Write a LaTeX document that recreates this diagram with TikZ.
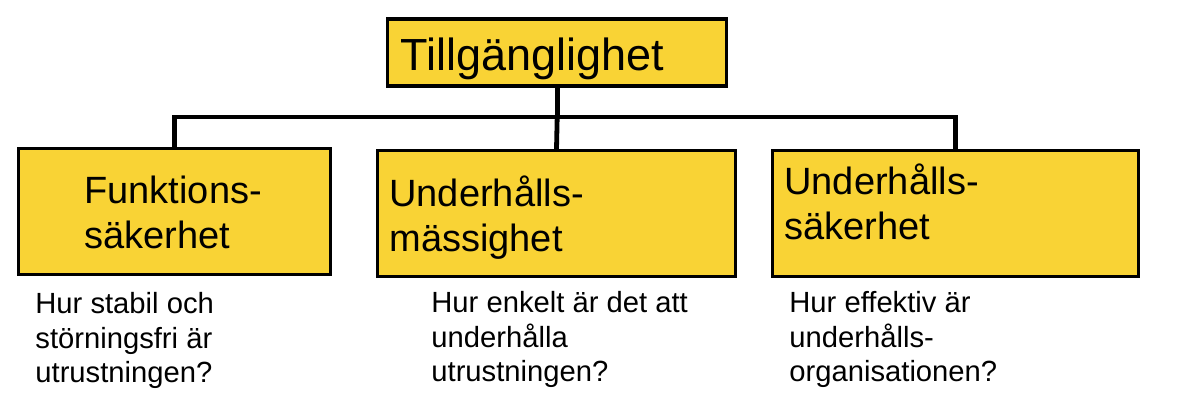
\documentclass[tikz,border=0pt]{standalone}
\usepackage{fontspec}
\setmainfont{Liberation Sans}
\definecolor{tyellow}{HTML}{F9D335}

\begin{document}
\begin{tikzpicture}[x=0.5pt, y=-0.5pt,
  box/.style={rectangle, draw=black, fill=tyellow, line width=1.75pt, inner sep=0pt},
  title/.style={anchor=base west, inner sep=0pt, font=\fontsize{22.5}{27}\selectfont},
  head/.style={anchor=base west, inner sep=0pt, align=left, font=\fontsize{19}{22.7}\selectfont},
  note/.style={anchor=base west, inner sep=0pt, align=left, font=\fontsize{14.6}{17.25}\selectfont},
  conn/.style={line width=2.4pt}
]
\useasboundingbox (0,0) rectangle (1189,405);

% boxes
\node[box, minimum width=169.5pt, minimum height=33.5pt] (avail) at (557.2,52.5) {};
\node[box, minimum width=156pt, minimum height=63pt] (fs) at (174.6,211.6) {};
\node[box, minimum width=178.8pt, minimum height=62.8pt] (um) at (556.5,213.5) {};
\node[box, minimum width=182.8pt, minimum height=62.8pt] (us) at (955.5,213.5) {};

% texts (base = last line)
\node[title] (availtxt) at (400,71) {Tillgänglighet};
\node[head] (fstxt) at (84,249) {Funktions-\\säkerhet};
\node[head] (umtxt) at (389,252) {Underhålls-\\mässighet};
\node[head] (ustxt) at (784,240) {Underhålls-\\säkerhet};

\node[note] (fsq) at (35,383) {Hur stabil och\\störningsfri är\\utrustningen?};
\node[note] (umq) at (431,382) {Hur enkelt är det att\\underhålla\\utrustningen?};
\node[note] (usq) at (789,382) {Hur effektiv är\\underhålls-\\organisationen?};

% tree lines
\coordinate (split) at (557.2,117);
\draw[conn] (avail.south) -- (split);
\draw[conn] (split) -| (fs.north);
\draw[conn] (split) -| (us.north);
\draw[conn] (split) -- (um.north);
\end{tikzpicture}
\end{document}
